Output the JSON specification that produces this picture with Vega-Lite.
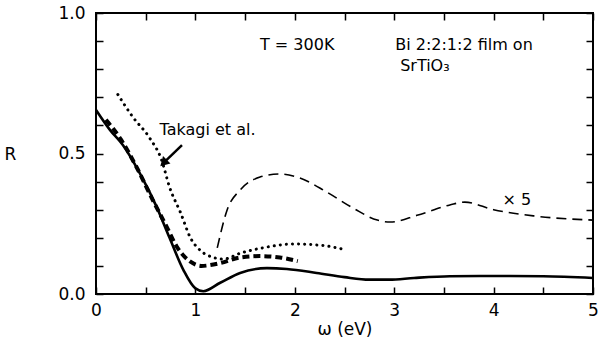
{
  "$schema": "https://vega.github.io/schema/vega-lite/v6.json",
  "width": 497,
  "height": 281,
  "autosize": {"type": "none"},
  "padding": {"left": 96, "top": 13, "right": 7, "bottom": 47},
  "background": "white",
  "config": {
    "view": {"stroke": "black", "strokeWidth": 2},
    "font": "DejaVu Sans",
    "axis": {"grid": false, "domain": false, "tickColor": "black", "tickWidth": 1.5, "labelColor": "black", "titleColor": "black", "labelFont": "DejaVu Sans", "titleFont": "DejaVu Sans"}
  },
  "datasets": {
    "solid": [
      {"w": 0.0, "R": 0.655}, {"w": 0.14, "R": 0.584}, {"w": 0.27, "R": 0.53},
      {"w": 0.44, "R": 0.43}, {"w": 0.61, "R": 0.31}, {"w": 0.74, "R": 0.2},
      {"w": 0.88, "R": 0.085}, {"w": 1.0, "R": 0.02}, {"w": 1.08, "R": 0.01},
      {"w": 1.25, "R": 0.04}, {"w": 1.45, "R": 0.075}, {"w": 1.72, "R": 0.092},
      {"w": 1.92, "R": 0.089}, {"w": 2.22, "R": 0.075}, {"w": 2.5, "R": 0.06},
      {"w": 2.75, "R": 0.051}, {"w": 2.95, "R": 0.051}, {"w": 3.2, "R": 0.057},
      {"w": 3.56, "R": 0.063}, {"w": 4.0, "R": 0.064}, {"w": 4.5, "R": 0.063},
      {"w": 5.0, "R": 0.057}
    ],
    "film": [
      {"w": 0.1, "R": 0.62}, {"w": 0.25, "R": 0.55}, {"w": 0.41, "R": 0.45},
      {"w": 0.57, "R": 0.335}, {"w": 0.71, "R": 0.24}, {"w": 0.81, "R": 0.17},
      {"w": 0.95, "R": 0.115}, {"w": 1.06, "R": 0.1}, {"w": 1.25, "R": 0.11},
      {"w": 1.45, "R": 0.13}, {"w": 1.65, "R": 0.135}, {"w": 1.85, "R": 0.13},
      {"w": 2.03, "R": 0.117}
    ],
    "takagi": [
      {"w": 0.22, "R": 0.71}, {"w": 0.37, "R": 0.63}, {"w": 0.54, "R": 0.555},
      {"w": 0.66, "R": 0.477}, {"w": 0.74, "R": 0.38}, {"w": 0.85, "R": 0.29},
      {"w": 0.95, "R": 0.2}, {"w": 1.05, "R": 0.155}, {"w": 1.18, "R": 0.13},
      {"w": 1.28, "R": 0.124}, {"w": 1.45, "R": 0.145}, {"w": 1.72, "R": 0.167},
      {"w": 1.98, "R": 0.178}, {"w": 2.25, "R": 0.174}, {"w": 2.48, "R": 0.16}
    ],
    "times5": [
      {"w": 1.22, "R": 0.164}, {"w": 1.32, "R": 0.3}, {"w": 1.45, "R": 0.37},
      {"w": 1.65, "R": 0.416}, {"w": 1.85, "R": 0.427}, {"w": 2.05, "R": 0.413},
      {"w": 2.32, "R": 0.363}, {"w": 2.59, "R": 0.305}, {"w": 2.83, "R": 0.263},
      {"w": 2.96, "R": 0.256}, {"w": 3.23, "R": 0.28}, {"w": 3.56, "R": 0.317},
      {"w": 3.71, "R": 0.327}, {"w": 4.0, "R": 0.3}, {"w": 4.4, "R": 0.278},
      {"w": 5.0, "R": 0.263}
    ],
    "notes": [
      {"w": 1.65, "R": 0.886, "label": "T = 300K"},
      {"w": 3.01, "R": 0.886, "label": "Bi 2:2:1:2 film on"},
      {"w": 3.06, "R": 0.812, "label": "SrTiO₃"},
      {"w": 0.64, "R": 0.584, "label": "Takagi et al."},
      {"w": 4.09, "R": 0.335, "label": "× 5"}
    ],
    "arrow": [{"w": 0.865, "R": 0.53, "w2": 0.69, "R2": 0.47}]
  },
  "layer": [
    {
      "data": {"name": "solid"},
      "mark": {"type": "line", "color": "black", "strokeWidth": 2.6, "interpolate": "monotone"},
      "encoding": {
        "x": {"field": "w", "type": "quantitative", "scale": {"domain": [0, 5], "nice": false},
          "axis": {"orient": "bottom", "values": [0, 0.5, 1, 1.5, 2, 2.5, 3, 3.5, 4, 4.5, 5],
            "labelExpr": "datum.value % 1 == 0 ? datum.value : ''", "tickSize": -7, "labelPadding": 15,
            "labelFontSize": 17, "labelFlush": false, "title": "ω (eV)", "titleFontSize": 17, "titleFontWeight": "normal", "titlePadding": 3}},
        "y": {"field": "R", "type": "quantitative", "scale": {"domain": [0, 1], "nice": false},
          "axis": {"orient": "left", "values": [0, 0.1, 0.2, 0.3, 0.4, 0.5, 0.6, 0.7, 0.8, 0.9, 1.0],
            "labelExpr": "datum.value == 0 || datum.value == 0.5 || datum.value == 1 ? format(datum.value, '.1f') : ''",
            "tickSize": -7, "labelPadding": 18, "labelFontSize": 17, "labelFlush": false,
            "title": "R", "titleAngle": 0, "titleFontSize": 17, "titleFontWeight": "normal",
            "titleX": -86, "titleY": 141, "titleBaseline": "middle", "titleAlign": "center"}}
      }
    },
    {
      "data": {"name": "film"},
      "mark": {"type": "line", "color": "black", "strokeWidth": 4, "strokeDash": [7, 4], "interpolate": "monotone"},
      "encoding": {
        "x": {"field": "w", "type": "quantitative",
          "axis": {"orient": "top", "values": [0, 0.5, 1, 1.5, 2, 2.5, 3, 3.5, 4, 4.5, 5], "labels": false, "tickSize": -7, "title": null}},
        "y": {"field": "R", "type": "quantitative",
          "axis": {"orient": "right", "values": [0, 0.1, 0.2, 0.3, 0.4, 0.5, 0.6, 0.7, 0.8, 0.9, 1.0], "labels": false, "tickSize": -7, "title": null}}
      }
    },
    {
      "data": {"name": "takagi"},
      "mark": {"type": "line", "color": "black", "strokeWidth": 3, "strokeDash": [0.1, 6], "strokeCap": "round", "interpolate": "monotone"},
      "encoding": {
        "x": {"field": "w", "type": "quantitative", "axis": null},
        "y": {"field": "R", "type": "quantitative", "axis": null}
      }
    },
    {
      "data": {"name": "times5"},
      "mark": {"type": "line", "color": "black", "strokeWidth": 1.6, "strokeDash": [10, 6], "interpolate": "monotone"},
      "encoding": {
        "x": {"field": "w", "type": "quantitative", "axis": null},
        "y": {"field": "R", "type": "quantitative", "axis": null}
      }
    },
    {
      "data": {"name": "arrow"},
      "mark": {"type": "rule", "color": "black", "strokeWidth": 2.5},
      "encoding": {
        "x": {"field": "w", "type": "quantitative", "axis": null},
        "y": {"field": "R", "type": "quantitative", "axis": null},
        "x2": {"field": "w2"},
        "y2": {"field": "R2"}
      }
    },
    {
      "data": {"name": "arrow"},
      "mark": {"type": "point", "shape": "triangle", "filled": true, "color": "black", "opacity": 1, "size": 110, "angle": 225},
      "encoding": {
        "x": {"field": "w2", "type": "quantitative", "axis": null},
        "y": {"field": "R2", "type": "quantitative", "axis": null}
      }
    },
    {
      "data": {"name": "notes"},
      "mark": {"type": "text", "align": "left", "baseline": "middle", "fontSize": 16, "color": "black", "font": "DejaVu Sans"},
      "encoding": {
        "x": {"field": "w", "type": "quantitative", "axis": null},
        "y": {"field": "R", "type": "quantitative", "axis": null},
        "text": {"field": "label"}
      }
    }
  ],
  "resolve": {"axis": {"x": "independent", "y": "independent"}}
}
